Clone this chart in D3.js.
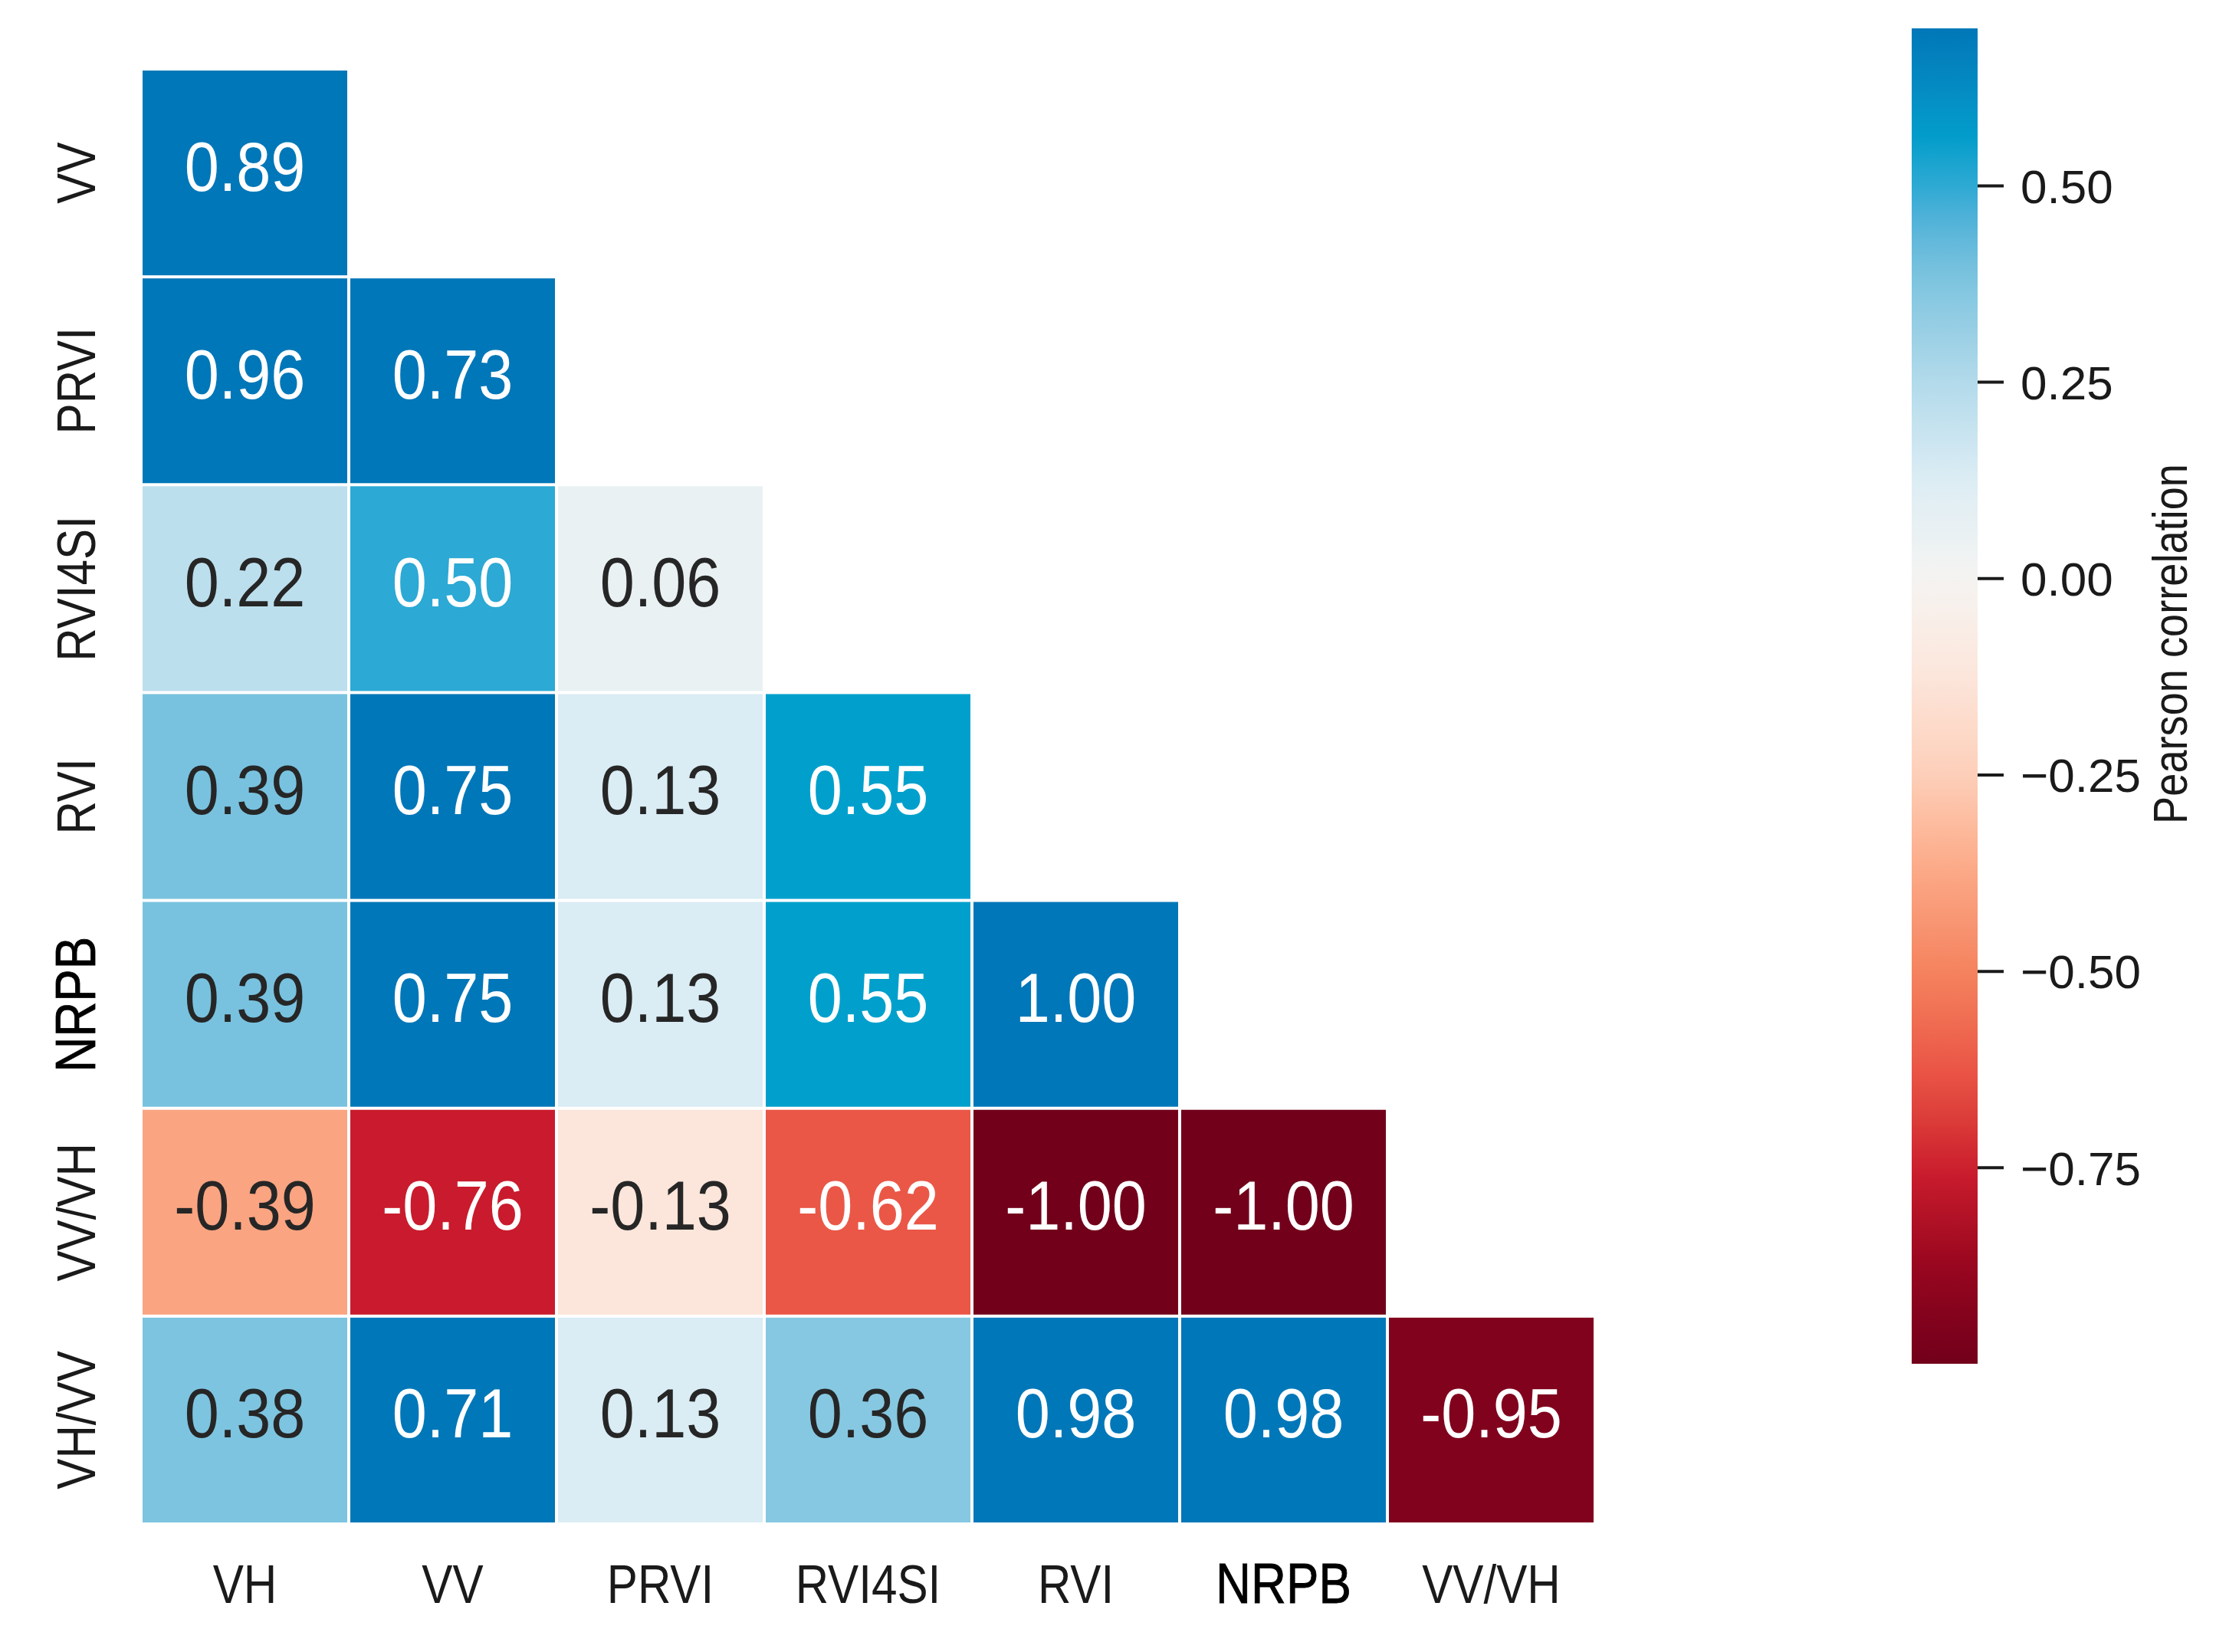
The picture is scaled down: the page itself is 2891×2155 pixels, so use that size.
<!DOCTYPE html>
<html>
<head>
<meta charset="utf-8">
<script src="https://cdn.jsdelivr.net/npm/d3@7"></script>
<style>
  html, body { margin: 0; padding: 0; background: #fff; }
  text { font-family: "Liberation Sans", Arial, sans-serif; }
</style>
</head>
<body>
<svg id="chart" width="2891" height="2155"></svg>
<script>
// variables along the rows (top to bottom) and columns (left to right)
const rowNames = ['VV', 'PRVI', 'RVI4SI', 'RVI', 'NRPB', 'VV/VH', 'VH/VV'];
const colNames = ['VH', 'VV', 'PRVI', 'RVI4SI', 'RVI', 'NRPB', 'VV/VH'];

// lower triangle of the correlation matrix, one array per row
const rVV     = [0.89];
const rPRVI   = [0.96, 0.73];
const rRVI4SI = [0.22, 0.50, 0.06];
const rRVI    = [0.39, 0.75, 0.13, 0.55];
const rNRPB   = [0.39, 0.75, 0.13, 0.55, 1.00];
const rVVVH   = [-0.39, -0.76, -0.13, -0.62, -1.00, -1.00];
const rVHVV   = [0.38, 0.71, 0.13, 0.36, 0.98, 0.98, -0.95];

const colorbarTicks = [0.50, 0.25, 0.00, -0.25, -0.50, -0.75];
const colorbarLabel = 'Pearson correlation';

const rows = [rVV, rPRVI, rRVI4SI, rRVI, rNRPB, rVVVH, rVHVV];
const cells = [];
rows.forEach((vals, i) => {
    vals.forEach((v, j) => cells.push({ row: rowNames[i], col: colNames[j], value: v }));
});

const vmin = -1.0, vmax = 0.70;

// colour ramp, sampled from the figure
const rampStops  = [-1.0, -0.875, -0.75, -0.625, -0.5, -0.375, -0.25, -0.125, 0, 0.125, 0.25, 0.375, 0.5, 0.55, 0.7];
const rampColors = ['#72001b', '#98061f', '#cd1d2e', '#ea5546', '#f5835f', '#fba886', '#fdcfb9', '#fce6db',
                    '#f5f4f2', '#dcedf4', '#b2daeb', '#80c5e0', '#2ca9d4', '#01a0cc', '#0077b8'];
const color = d3.scaleLinear()
    .domain(rampStops)
    .range(rampColors)
    .interpolate(d3.interpolateLab)
    .clamp(true);

const svg = d3.select('#chart');

const x = d3.scaleBand().domain(colNames).range([184, 2081]);
const y = d3.scaleBand().domain(rowNames).range([90, 1988]);

function luminance(c) {
    const rgb = d3.rgb(c);
    const f = v => {
        v /= 255;
        return v <= 0.03928 ? v / 12.92 : Math.pow((v + 0.055) / 1.055, 2.4);
    };
    return 0.2126 * f(rgb.r) + 0.7152 * f(rgb.g) + 0.0722 * f(rgb.b);
}

const gap = 2;
svg.append('g')
    .selectAll('rect')
    .data(cells)
    .enter()
    .append('rect')
    .attr('x', d => x(d.col) + gap)
    .attr('y', d => y(d.row) + gap)
    .attr('width', x.bandwidth() - 2 * gap)
    .attr('height', y.bandwidth() - 2 * gap)
    .attr('fill', d => color(d.value));

svg.append('g')
    .selectAll('text')
    .data(cells)
    .enter()
    .append('text')
    .attr('transform', d => `translate(${x(d.col) + x.bandwidth() / 2},${y(d.row) + y.bandwidth() / 2 + 23}) scale(0.9,1)`)
    .attr('text-anchor', 'middle')
    .attr('font-size', 90)
    .attr('fill', d => luminance(color(d.value)) > 0.408 ? '#262626' : '#ffffff')
    .text(d => d.value.toFixed(2));

// x axis
const xAxis = svg.append('g')
    .attr('transform', 'translate(0,1988)')
    .call(d3.axisBottom(x).tickSize(0).tickPadding(0));
xAxis.select('.domain').remove();
xAxis.selectAll('text')
    .attr('y', null).attr('dy', null)
    .attr('transform', 'translate(0,103) scale(0.86,1)')
    .attr('font-size', 70)
    .attr('fill', '#1a1a1a');

// y axis
const yAxis = svg.append('g')
    .attr('transform', 'translate(124,0)')
    .call(d3.axisLeft(y).tickSize(0).tickPadding(0));
yAxis.select('.domain').remove();
yAxis.selectAll('.tick').attr('transform', d => `translate(0,${y(d) + y.bandwidth() / 2})`);
yAxis.selectAll('text')
    .attr('x', null).attr('dy', null)
    .attr('text-anchor', 'middle')
    .attr('transform', 'rotate(-90) scale(0.86,1)')
    .attr('font-size', 70)
    .attr('fill', '#1a1a1a');

// NRPB labels look heavier in the original
[xAxis, yAxis].forEach(ax => ax.selectAll('text')
    .filter(d => d === 'NRPB')
    .attr('font-size', 74)
    .attr('stroke', '#000')
    .attr('stroke-width', 0.8)
    .attr('fill', '#000'));

// colour bar
const cbX = 2494, cbW = 86;
const cbScale = d3.scaleLinear().domain([vmin, vmax]).range([1779, 37]);

const grad = svg.append('defs').append('linearGradient')
    .attr('id', 'cbgrad')
    .attr('x1', 0).attr('y1', 1).attr('x2', 0).attr('y2', 0);
d3.range(0, 1.0001, 0.02).forEach(t => {
    grad.append('stop')
        .attr('offset', t)
        .attr('stop-color', color(vmin + t * (vmax - vmin)));
});

svg.append('rect')
    .attr('x', cbX)
    .attr('y', cbScale(vmax))
    .attr('width', cbW)
    .attr('height', cbScale(vmin) - cbScale(vmax))
    .attr('fill', 'url(#cbgrad)');

const cbAxis = svg.append('g')
    .attr('transform', `translate(${cbX + cbW},0)`)
    .call(d3.axisRight(cbScale)
        .tickValues(colorbarTicks)
        .tickSize(34)
        .tickPadding(22)
        .tickFormat(d => d3.format('.2f')(d).replace('-', '\u2212')));
cbAxis.select('.domain').remove();
cbAxis.selectAll('line').attr('stroke', '#1a1a1a').attr('stroke-width', 4);
cbAxis.selectAll('text')
    .attr('font-size', 62)
    .attr('fill', '#1a1a1a')
    .attr('dy', '0.36em');

svg.append('text')
    .attr('transform', 'translate(2853,840) rotate(-90) scale(0.86,1)')
    .attr('text-anchor', 'middle')
    .attr('font-size', 63)
    .attr('fill', '#1a1a1a')
    .text(colorbarLabel);
</script>
</body>
</html>
